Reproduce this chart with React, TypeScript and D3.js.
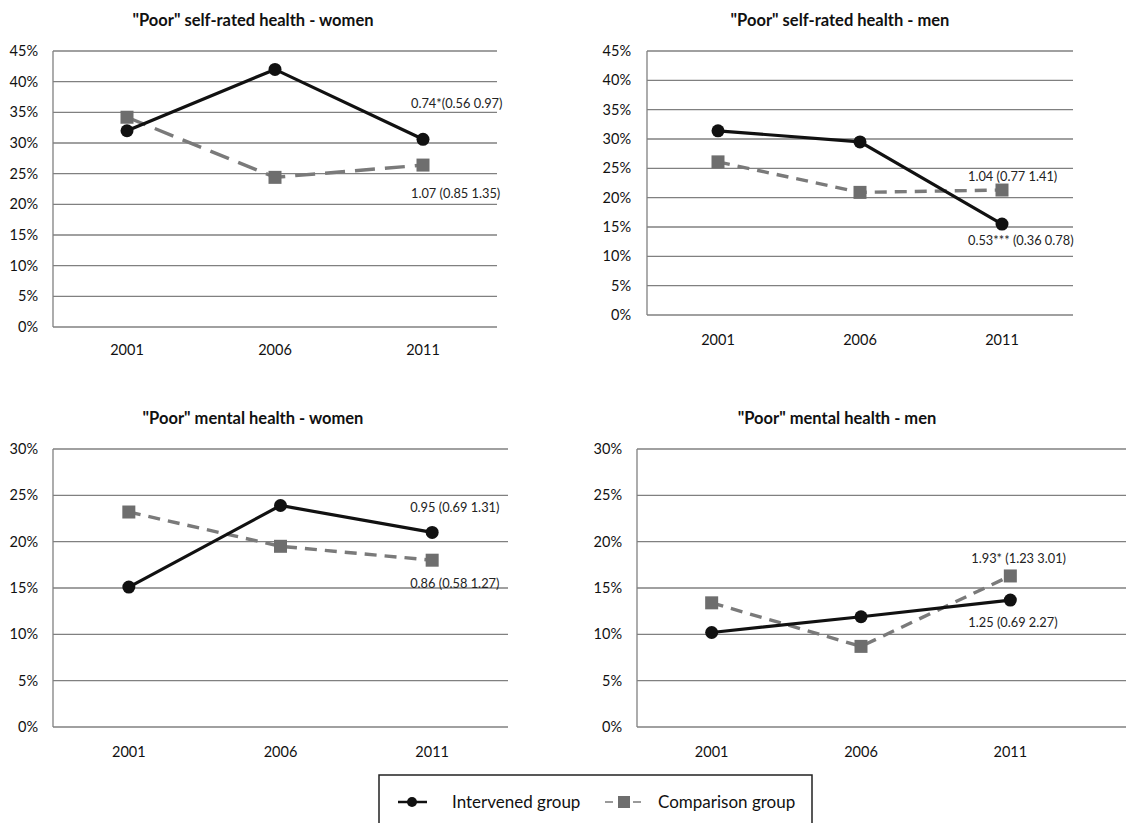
import React from "react";
import * as d3 from "d3";

const years = ["2001", "2006", "2011"];

const srhWomenIntervened = [32.0, 42.0, 30.6];
const srhWomenComparison = [34.2, 24.4, 26.4];
const srhMenIntervened = [31.4, 29.5, 15.5];
const srhMenComparison = [26.1, 20.9, 21.3];
const mhWomenIntervened = [15.1, 23.9, 21.0];
const mhWomenComparison = [23.2, 19.5, 18.0];
const mhMenIntervened = [10.2, 11.9, 13.7];
const mhMenComparison = [13.4, 8.7, 16.3];

const titles = [
  '"Poor" self-rated health - women',
  '"Poor" self-rated health - men',
  '"Poor" mental health - women',
  '"Poor" mental health - men',
];
const intervenedLabels = ["0.74*(0.56 0.97)", "0.53*** (0.36 0.78)", "0.95 (0.69 1.31)", "1.25 (0.69 2.27)"];
const comparisonLabels = ["1.07 (0.85 1.35)", "1.04 (0.77 1.41)", "0.86 (0.58 1.27)", "1.93* (1.23 3.01)"];
const yMaxes = [45, 45, 30, 30];
const legendLabels = ["Intervened group", "Comparison group"];

const FONT = "Lato, 'Open Sans', sans-serif";

type Layout = {
  left: number; right: number; gridRight: number; top: number; bottom: number;
  titleX: number; titleY: number; xLabelY: number; yLabelX: number;
  intOff: [number, number]; compOff: [number, number]; dash: string;
};

const layouts: Layout[] = [
  { left: 53, right: 497, gridRight: 497, top: 51, bottom: 327, titleX: 253, titleY: 26, xLabelY: 355, yLabelX: 38, intOff: [-12, -36], compOff: [-12, 28], dash: "20,10" },
  { left: 647, right: 1073, gridRight: 1073, top: 51, bottom: 315, titleX: 840, titleY: 26, xLabelY: 345, yLabelX: 631, intOff: [-34, 16], compOff: [-34, -14], dash: "12,8" },
  { left: 53, right: 508, gridRight: 508, top: 449, bottom: 727, titleX: 253, titleY: 424, xLabelY: 757, yLabelX: 38, intOff: [-22, -25], compOff: [-22, 23], dash: "12,8" },
  { left: 637, right: 1085, gridRight: 1126, top: 449, bottom: 727, titleX: 837, titleY: 424, xLabelY: 757, yLabelX: 622, intOff: [-42, 22], compOff: [-39, -17], dash: "12,8" },
];

const seriesInt = [srhWomenIntervened, srhMenIntervened, mhWomenIntervened, mhMenIntervened];
const seriesComp = [srhWomenComparison, srhMenComparison, mhWomenComparison, mhMenComparison];

function Panel({ i }: { i: number }) {
  const L = layouts[i];
  const x = d3.scaleBand<string>().domain(years).range([L.left, L.right]);
  const y = d3.scaleLinear().domain([0, yMaxes[i]]).range([L.bottom, L.top]);
  const ticks = d3.range(0, yMaxes[i] + 0.001, 5);
  const cx = (k: number) => (x(years[k]) as number) + x.bandwidth() / 2;
  const line = d3.line<number>().x((_, k) => cx(k)).y((v) => y(v));
  const intV = seriesInt[i];
  const compV = seriesComp[i];
  return (
    <g>
      <text x={L.titleX} y={L.titleY} textAnchor="middle" fontFamily={FONT} fontWeight="bold" fontSize={16.5} fill="#111">
        {titles[i]}
      </text>
      {ticks.map((t) => (
        <g key={t}>
          <line x1={L.left} x2={L.gridRight} y1={y(t)} y2={y(t)} stroke="#808080" strokeWidth={1.3} />
          <text x={L.yLabelX} y={y(t)} dy="0.35em" textAnchor="end" fontFamily={FONT} fontSize={14.5} fill="#111">
            {t}%
          </text>
        </g>
      ))}
      <line x1={L.left} x2={L.left} y1={L.top} y2={L.bottom} stroke="#808080" strokeWidth={1.3} />
      {years.map((yr) => (
        <text key={yr} x={(x(yr) as number) + x.bandwidth() / 2} y={L.xLabelY} textAnchor="middle" fontFamily={FONT} fontSize={14.5} fill="#111">
          {yr}
        </text>
      ))}
      <path d={line(compV) || ""} fill="none" stroke="#7a7a7a" strokeWidth={3.4} strokeDasharray={L.dash} />
      {compV.map((v, k) => (
        <rect key={k} x={cx(k) - 6.5} y={y(v) - 6.5} width={13} height={13} fill="#6e6e6e" />
      ))}
      <path d={line(intV) || ""} fill="none" stroke="#111" strokeWidth={3.2} />
      {intV.map((v, k) => (
        <circle key={k} cx={cx(k)} cy={y(v)} r={6.5} fill="#111" />
      ))}
      <text x={cx(2) + L.intOff[0]} y={y(intV[2]) + L.intOff[1]} dy="0.35em" fontFamily={FONT} fontSize={12.8} fill="#222">
        {intervenedLabels[i]}
      </text>
      <text x={cx(2) + L.compOff[0]} y={y(compV[2]) + L.compOff[1]} dy="0.35em" fontFamily={FONT} fontSize={12.8} fill="#222">
        {comparisonLabels[i]}
      </text>
    </g>
  );
}

export default function App() {
  return (
    <svg width={1126} height={823} style={{ position: "absolute", left: 0, top: 0, background: "#fff" }}>
      <rect x={0} y={0} width={1126} height={823} fill="#fff" />
      {[0, 1, 2, 3].map((i) => (
        <Panel key={i} i={i} />
      ))}
      <g>
        <path d="M379,830 L379,775 L812,775 L812,830" fill="none" stroke="#222" strokeWidth={1.5} />
        <line x1={398} x2={427} y1={802} y2={802} stroke="#111" strokeWidth={2.5} />
        <circle cx={412} cy={802} r={5} fill="#111" />
        <text x={452} y={802} dy="0.35em" fontFamily={FONT} fontSize={17} fill="#111">
          {legendLabels[0]}
        </text>
        <line x1={605} x2={643} y1={802} y2={802} stroke="#7a7a7a" strokeWidth={1.5} strokeDasharray="8,6" />
        <rect x={618} y={796} width={12} height={12} fill="#6e6e6e" />
        <text x={658} y={802} dy="0.35em" fontFamily={FONT} fontSize={17} fill="#111">
          {legendLabels[1]}
        </text>
      </g>
    </svg>
  );
}
